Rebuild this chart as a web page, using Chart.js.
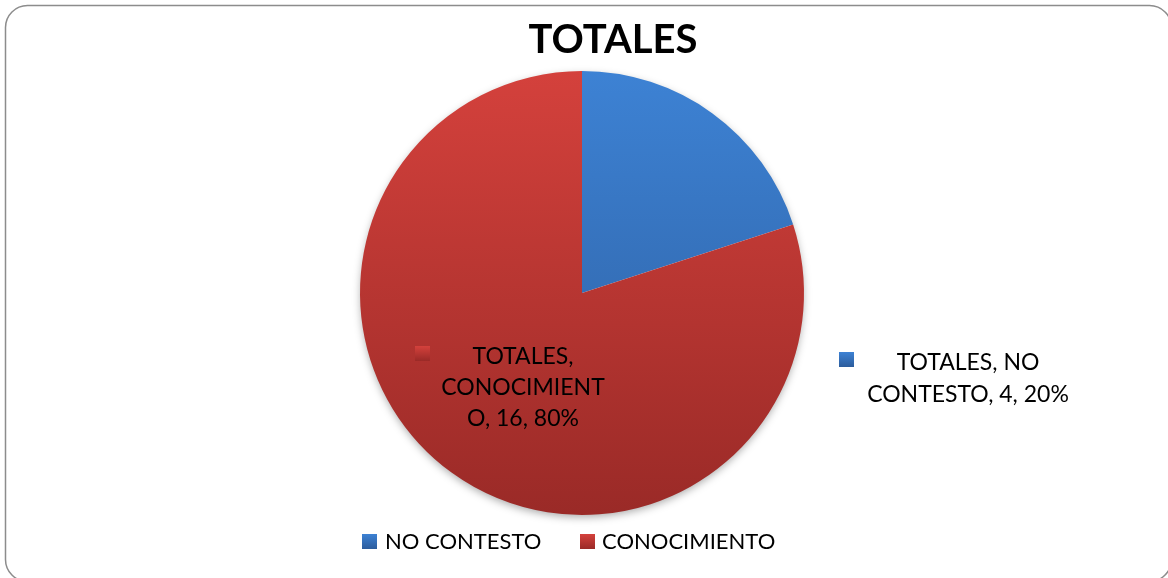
<!DOCTYPE html>
<html>
<head>
<meta charset="utf-8">
<script src="https://cdn.jsdelivr.net/npm/chart.js@4.4.1/dist/chart.umd.min.js"></script>
<style>
  html, body { margin: 0; padding: 0; background: #ffffff; }
  #wrap { position: relative; width: 1168px; height: 578px; }
</style>
</head>
<body>
<div id="wrap"><canvas id="c" width="1168" height="578"></canvas></div>
<script>
const seriesName = 'TOTALES';
const categories = ['NO CONTESTO', 'CONOCIMIENTO'];
const values = [4, 16];
const chartTitle = 'TOTALES';

const FONT = 'Lato, "Open Sans", "Liberation Sans", sans-serif';
const palettes = [
  { top: '#3d82d4', bottom: '#2c5c9c' },
  { top: '#d4413c', bottom: '#9a2a27' }
];

function vGrad(ctx, y0, y1, p) {
  const g = ctx.createLinearGradient(0, y0, 0, y1);
  g.addColorStop(0, p.top);
  g.addColorStop(1, p.bottom);
  return g;
}

const total = values.reduce((a, b) => a + b, 0);

const decorPlugin = {
  id: 'decor',
  beforeDraw(chart) {
    const ctx = chart.ctx;
    ctx.save();
    ctx.fillStyle = '#ffffff';
    ctx.fillRect(0, 0, chart.width, chart.height);
    const x = 5.5, y = 5.5, w = 1166, h = 576, r = 22;
    ctx.beginPath();
    ctx.moveTo(x + r, y);
    ctx.lineTo(x + w - r, y);
    ctx.arcTo(x + w, y, x + w, y + r, r);
    ctx.lineTo(x + w, y + h - r);
    ctx.arcTo(x + w, y + h, x + w - r, y + h, r);
    ctx.lineTo(x + r, y + h);
    ctx.arcTo(x, y + h, x, y + h - r, r);
    ctx.lineTo(x, y + r);
    ctx.arcTo(x, y, x + r, y, r);
    ctx.closePath();
    ctx.strokeStyle = '#8c8c8c';
    ctx.lineWidth = 1.5;
    ctx.stroke();
    ctx.restore();
  },
  beforeDatasetsDraw(chart) {
    const arc = chart.getDatasetMeta(0).data[0];
    if (!arc) return;
    const ctx = chart.ctx;
    ctx.save();
    ctx.shadowColor = 'rgba(0,0,0,0.35)';
    ctx.shadowBlur = 9;
    ctx.shadowOffsetY = 3;
    ctx.fillStyle = '#ffffff';
    ctx.beginPath();
    ctx.arc(arc.x, arc.y, arc.outerRadius - 1, 0, Math.PI * 2);
    ctx.fill();
    ctx.restore();
  },
  afterDatasetsDraw(chart) {
    const ctx = chart.ctx;
    const meta = chart.getDatasetMeta(0);
    const a0 = meta.data[0];
    const cx = a0.x, cy = a0.y, R = a0.outerRadius;
    const bottom = cy + R;
    ctx.save();
    ctx.fillStyle = '#000000';
    ctx.textAlign = 'center';
    ctx.textBaseline = 'middle';
    ctx.font = 'bold 40px ' + FONT;
    ctx.fillText(chartTitle, cx + 31, 40);

    function key(x, y, i) {
      ctx.fillStyle = vGrad(ctx, y, y + 15, palettes[i]);
      ctx.fillRect(x, y, 15, 15);
    }
    const pct = values.map(v => Math.round(v / total * 100) + '%');

    ctx.font = '23px ' + FONT;
    ctx.fillStyle = '#000000';
    const lx1 = cx - 59, ly1 = cy + 64;
    const lines1 = [seriesName + ',', categories[1].slice(0, 11), categories[1].slice(11) + ', ' + values[1] + ', ' + pct[1]];
    lines1.forEach((t, k) => ctx.fillText(t, lx1, ly1 + k * 31));
    key(cx - 167, cy + 53, 1);

    ctx.fillStyle = '#000000';
    const lx0 = cx + 386, ly0 = cy + 70;
    const lines0 = [seriesName + ', ' + categories[0].split(' ')[0], categories[0].split(' ')[1] + ', ' + values[0] + ', ' + pct[0]];
    lines0.forEach((t, k) => ctx.fillText(t, lx0, ly0 + k * 32));
    key(cx + 257, cy + 59, 0);

    ctx.textAlign = 'left';
    ctx.font = '22px ' + FONT;
    const ly = bottom + 27;
    key(362, ly - 8, 0);
    ctx.fillStyle = '#000000';
    ctx.fillText(categories[0], 385, ly);
    key(580, ly - 8, 1);
    ctx.fillStyle = '#000000';
    ctx.fillText(categories[1], 602, ly);
    ctx.restore();
  }
};

new Chart(document.getElementById('c'), {
  type: 'pie',
  data: {
    labels: categories,
    datasets: [{
      label: seriesName,
      data: values,
      borderWidth: 0,
      backgroundColor: (c) => {
        const ca = c.chart.chartArea;
        if (!ca) return palettes[c.dataIndex].top;
        return vGrad(c.chart.ctx, ca.top, ca.bottom, palettes[c.dataIndex]);
      },
      hoverOffset: 0
    }]
  },
  options: {
    responsive: false,
    animation: false,
    events: [],
    layout: { padding: { top: 71, bottom: 63, left: 360, right: 364 } },
    plugins: {
      legend: { display: false },
      title: { display: false },
      tooltip: { enabled: false }
    }
  },
  plugins: [decorPlugin]
});
</script>
</body>
</html>
